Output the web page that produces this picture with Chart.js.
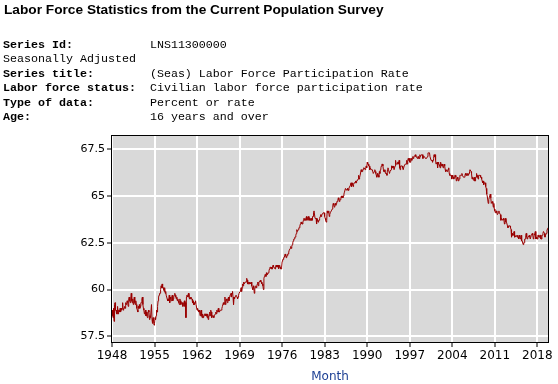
<!DOCTYPE html>
<html>
<head>
<meta charset="utf-8">
<script src="https://cdn.jsdelivr.net/npm/chart.js@4.4.0/dist/chart.umd.min.js"></script>
<style>
  html, body { margin: 0; padding: 0; background: #fff; }
  body { width: 558px; height: 384px; position: relative; overflow: hidden; }
  #title { position: absolute; left: 4px; top: 2px; font: bold 13.7px/16px "Liberation Sans", Arial, sans-serif; color: #000; white-space: nowrap; }
  #meta { position: absolute; left: 3px; top: 37.5px; margin: 0; font: 11.67px/14.6px "Liberation Mono", "Courier New", monospace; color: #000; }
  #wrap { position: absolute; left: 0; top: 0; width: 558px; height: 384px; }
</style>
</head>
<body>
<div id="wrap"><canvas id="lfprChart"></canvas></div>
<div id="title">Labor Force Statistics from the Current Population Survey</div>
<pre id="meta"><b>Series Id:</b>           LNS11300000
Seasonally Adjusted
<b>Series title:</b>        (Seas) Labor Force Participation Rate
<b>Labor force status:</b>  Civilian labor force participation rate
<b>Type of data:</b>        Percent or rate
<b>Age:</b>                 16 years and over</pre>
<script>
// monthly values, Jan 1948 .. Oct 2019
const firstYear = 1948;
const xTickYears = [1948, 1955, 1962, 1969, 1976, 1983, 1990, 1997, 2004, 2011, 2018];
const yTickValues = [57.5, 60, 62.5, 65, 67.5];

const rate1940s = [
  58.6, 58.9, 58.5, 59.0, 58.3, 59.2, 59.3, 58.9, 58.9, 58.7, 58.7, 59.1,
  58.7, 58.9, 58.9, 58.8, 59.0, 58.8, 59.0, 58.9, 59.0, 59.3, 58.9, 59.0
];
const rate1950s = [
  59.0, 59.1, 59.0, 59.3, 59.2, 59.3, 59.4, 59.3, 59.1, 59.5, 59.6, 59.4,
  59.3, 59.5, 59.8, 59.4, 59.3, 59.5, 59.2, 59.4, 59.6, 59.3, 59.2, 59.4,
  59.2, 59.0, 58.9, 58.8, 59.1, 59.0, 59.2, 59.0, 59.1, 59.3, 59.3, 59.5,
  59.6, 59.2, 59.0, 58.9, 58.7, 58.8, 58.9, 58.6, 58.8, 58.6, 58.5, 58.7,
  58.9, 58.8, 58.4, 58.6, 58.5, 58.5, 59.2, 58.4, 58.2, 58.5, 58.3, 58.1,
  58.2, 58.5, 58.4, 58.6, 58.9, 58.8, 59.1, 59.4, 59.6, 59.7, 59.8, 59.8,
  60.0, 60.2, 60.1, 60.3, 60.1, 60.1, 60.0, 59.9, 60.1, 59.8, 59.9, 59.7,
  59.7, 59.5, 59.4, 59.5, 59.4, 59.7, 59.3, 59.6, 59.5, 59.4, 59.6, 59.7,
  59.4, 59.5, 59.6, 59.7, 59.8, 59.7, 59.6, 59.5, 59.6, 59.4, 59.5, 59.4,
  59.3, 59.2, 59.5, 59.4, 59.2, 59.3, 59.3, 59.3, 59.1, 59.2, 59.2, 59.4
];
const rate1960s = [
  59.1, 59.3, 58.5, 59.6, 59.7, 59.6, 59.6, 59.8, 59.6, 59.5, 59.6, 59.5,
  59.6, 59.5, 59.5, 59.3, 59.4, 59.2, 59.3, 59.2, 59.3, 59.4, 59.2, 59.2,
  58.9, 59.0, 58.9, 58.8, 58.9, 58.8, 58.6, 58.8, 58.9, 58.6, 58.5, 58.7,
  58.5, 58.6, 58.6, 58.7, 58.7, 58.6, 58.7, 58.6, 58.5, 58.7, 58.4, 58.6,
  58.6, 58.8, 58.6, 58.9, 58.8, 58.5, 58.6, 58.6, 58.6, 58.5, 58.6, 58.6,
  58.7, 58.8, 58.7, 58.9, 58.8, 58.9, 59.0, 58.8, 58.8, 58.8, 58.9, 58.9,
  58.9, 59.0, 59.1, 59.1, 59.3, 59.2, 59.3, 59.6, 59.2, 59.4, 59.5, 59.4,
  59.3, 59.5, 59.6, 59.4, 59.6, 59.7, 59.7, 59.8, 59.6, 59.8, 59.9, 59.6,
  59.2, 59.6, 59.5, 59.6, 59.6, 59.7, 59.7, 59.6, 59.5, 59.6, 59.7, 59.8,
  59.8, 59.9, 60.0, 60.1, 59.9, 60.1, 60.3, 60.2, 60.4, 60.3, 60.3, 60.4
];
const rate1970s = [
  60.4, 60.4, 60.6, 60.5, 60.3, 60.3, 60.4, 60.3, 60.4, 60.3, 60.3, 60.4,
  60.2, 60.1, 60.0, 60.2, 60.1, 59.8, 60.1, 60.1, 60.2, 60.1, 60.2, 60.3,
  60.4, 60.2, 60.4, 60.4, 60.4, 60.5, 60.4, 60.4, 60.3, 60.3, 60.2, 60.0,
  60.6, 60.7, 60.8, 60.8, 60.7, 60.9, 60.8, 60.8, 60.8, 60.9, 61.0, 61.1,
  61.2, 61.2, 61.1, 61.2, 61.1, 61.2, 61.3, 61.2, 61.2, 61.2, 61.1, 61.2,
  61.3, 61.2, 61.3, 61.2, 61.3, 61.1, 61.2, 61.3, 61.2, 61.1, 61.1, 61.2,
  61.5, 61.6, 61.6, 61.7, 61.7, 61.7, 61.9, 61.8, 61.7, 61.8, 61.8, 61.9,
  61.9, 62.0, 62.1, 62.1, 62.2, 62.3, 62.2, 62.3, 62.4, 62.5, 62.6, 62.7,
  62.7, 62.8, 62.8, 62.9, 63.0, 63.2, 63.1, 63.1, 63.2, 63.3, 63.3, 63.4,
  63.5, 63.6, 63.6, 63.5, 63.5, 63.6, 63.7, 63.8, 63.7, 63.8, 63.7, 63.8
];
const rate1980s = [
  63.9, 63.7, 63.8, 63.8, 63.9, 63.7, 63.8, 63.7, 63.7, 63.8, 63.7, 63.7,
  63.9, 63.9, 64.1, 64.2, 64.2, 63.8, 63.8, 63.8, 63.5, 63.8, 63.8, 63.6,
  63.7, 63.7, 63.8, 63.9, 64.0, 63.9, 64.0, 64.0, 64.0, 64.1, 64.1, 64.1,
  63.9, 63.8, 63.7, 63.6, 63.7, 64.2, 64.1, 64.1, 64.2, 63.9, 64.0, 64.1,
  64.1, 64.2, 64.2, 64.3, 64.5, 64.6, 64.5, 64.4, 64.5, 64.6, 64.5, 64.6,
  64.7, 64.7, 64.8, 64.9, 64.8, 64.7, 64.8, 64.8, 64.9, 65.0, 64.9, 65.0,
  64.9, 65.0, 65.1, 65.2, 65.2, 65.4, 65.4, 65.3, 65.3, 65.4, 65.3, 65.3,
  65.4, 65.5, 65.5, 65.5, 65.7, 65.5, 65.6, 65.7, 65.5, 65.6, 65.7, 65.7,
  65.7, 65.8, 65.7, 65.8, 65.8, 65.8, 65.9, 66.1, 65.9, 66.0, 66.1, 66.1,
  66.4, 66.3, 66.3, 66.4, 66.4, 66.5, 66.5, 66.5, 66.4, 66.5, 66.6, 66.5
];
const rate1990s = [
  66.8, 66.7, 66.7, 66.6, 66.6, 66.4, 66.5, 66.5, 66.4, 66.4, 66.4, 66.4,
  66.2, 66.2, 66.3, 66.4, 66.3, 66.2, 66.1, 66.0, 66.2, 66.1, 66.1, 66.0,
  66.3, 66.2, 66.4, 66.5, 66.6, 66.7, 66.7, 66.6, 66.4, 66.3, 66.3, 66.4,
  66.2, 66.2, 66.2, 66.1, 66.4, 66.5, 66.4, 66.4, 66.2, 66.3, 66.3, 66.4,
  66.6, 66.6, 66.5, 66.5, 66.6, 66.4, 66.4, 66.6, 66.9, 66.7, 66.7, 66.7,
  66.8, 66.8, 66.7, 66.9, 66.5, 66.4, 66.6, 66.6, 66.6, 66.6, 66.5, 66.4,
  66.4, 66.6, 66.6, 66.7, 66.7, 66.7, 66.9, 66.7, 66.9, 67.0, 66.9, 67.0,
  66.8, 66.8, 67.0, 67.0, 66.9, 67.0, 67.1, 67.0, 67.1, 67.1, 67.1, 67.2,
  67.1, 67.1, 67.1, 67.0, 67.1, 67.1, 67.0, 67.0, 67.2, 67.1, 67.1, 67.2,
  67.2, 67.2, 67.0, 67.1, 67.1, 67.1, 67.1, 67.0, 67.0, 67.0, 67.0, 67.1
];
const rate2000s = [
  67.3, 67.3, 67.3, 67.3, 67.1, 67.1, 66.9, 66.9, 66.9, 66.8, 66.9, 67.0,
  67.2, 67.1, 67.2, 66.9, 66.7, 66.7, 66.8, 66.5, 66.8, 66.7, 66.7, 66.7,
  66.5, 66.8, 66.6, 66.7, 66.7, 66.6, 66.5, 66.6, 66.7, 66.6, 66.4, 66.3,
  66.4, 66.4, 66.3, 66.4, 66.4, 66.5, 66.2, 66.1, 66.1, 66.1, 66.1, 65.9,
  66.1, 66.0, 66.0, 65.9, 66.0, 66.1, 66.1, 66.0, 65.8, 65.9, 66.0, 65.9,
  65.8, 65.9, 65.9, 66.1, 66.1, 66.1, 66.1, 66.2, 66.1, 66.1, 66.0, 66.0,
  66.0, 66.1, 66.2, 66.1, 66.1, 66.2, 66.1, 66.2, 66.1, 66.2, 66.3, 66.4,
  66.4, 66.3, 66.2, 65.9, 66.0, 66.0, 66.0, 65.8, 66.0, 65.8, 66.0, 66.0,
  66.2, 66.0, 66.1, 65.9, 66.1, 66.1, 66.1, 66.1, 66.0, 66.0, 65.9, 65.8,
  65.7, 65.8, 65.6, 65.7, 65.7, 65.7, 65.5, 65.4, 65.1, 65.0, 65.0, 64.6
];
const rate2010s = [
  64.8, 64.9, 64.9, 65.1, 64.9, 64.6, 64.6, 64.7, 64.6, 64.4, 64.6, 64.3,
  64.2, 64.1, 64.2, 64.2, 64.1, 64.0, 64.0, 64.1, 64.2, 64.1, 64.1, 64.0,
  63.7, 63.8, 63.8, 63.7, 63.7, 63.8, 63.7, 63.5, 63.6, 63.8, 63.6, 63.6,
  63.6, 63.4, 63.3, 63.4, 63.4, 63.4, 63.4, 63.3, 63.2, 62.8, 63.0, 62.9,
  62.9, 63.0, 63.1, 62.8, 62.8, 62.8, 62.9, 62.9, 62.8, 62.9, 62.8, 62.7,
  62.9, 62.8, 62.7, 62.8, 62.9, 62.6, 62.6, 62.6, 62.4, 62.5, 62.5, 62.7,
  62.7, 62.9, 63.0, 62.8, 62.7, 62.8, 62.8, 62.8, 62.9, 62.8, 62.7, 62.7,
  62.9, 62.9, 63.0, 62.9, 62.7, 62.8, 62.9, 62.9, 63.1, 62.7, 62.8, 62.7,
  62.7, 62.9, 62.9, 62.8, 62.8, 62.9, 62.9, 62.7, 62.7, 62.9, 62.9, 63.0,
  63.1, 63.1, 63.0, 62.8, 62.9, 62.9, 63.0, 63.2, 63.2, 63.3
];

const rates = [].concat(rate1940s, rate1950s, rate1960s, rate1970s, rate1980s, rate1990s, rate2000s, rate2010s);
const points = rates.map((v, i) => ({ x: firstYear + i / 12, y: v }));

const plotFrame = {
  id: "plotFrame",
  beforeDraw(chart) {
    const a = chart.chartArea, ctx = chart.ctx;
    ctx.save();
    ctx.fillStyle = "#d9d9d9";
    ctx.fillRect(a.left, a.top, a.right - a.left, a.bottom - a.top);
    ctx.restore();
  },
  afterDraw(chart) {
    const a = chart.chartArea, ctx = chart.ctx;
    ctx.save();
    ctx.strokeStyle = "#000";
    ctx.lineWidth = 1;
    ctx.strokeRect(a.left - 0.5, a.top - 0.5, a.right - a.left + 1, a.bottom - a.top + 1);
    ctx.restore();
  }
};

new Chart(document.getElementById("lfprChart"), {
  type: "line",
  data: {
    datasets: [{
      data: points,
      borderColor: "#990000",
      borderWidth: 1,
      pointRadius: 0,
      tension: 0,
      fill: false
    }]
  },
  options: {
    responsive: true,
    maintainAspectRatio: false,
    animation: false,
    devicePixelRatio: 1,
    layout: { padding: { top: 136, right: 10, left: 0, bottom: 0 } },
    plugins: { legend: { display: false }, tooltip: { enabled: false } },
    scales: {
      x: {
        type: "linear",
        min: 1948,
        max: 2019.75,
        afterBuildTicks: s => { s.ticks = xTickYears.map(v => ({ value: v })); },
        afterFit: s => { s.height = 42; },
        grid: { color: "#fff", lineWidth: 2, tickColor: "#000", tickWidth: 1, tickLength: 5 },
        border: { display: false },
        ticks: {
          autoSkip: false, maxRotation: 0, padding: 2, color: "#000",
          font: { family: "DejaVu Sans", size: 12 },
          callback: v => String(v)
        },
        title: {
          display: true, text: "Month", color: "#1c3f94",
          font: { family: "DejaVu Sans", size: 12 },
          padding: { top: 2, bottom: 0 }
        }
      },
      y: {
        min: 57.2,
        max: 68.2,
        afterBuildTicks: s => { s.ticks = yTickValues.map(v => ({ value: v })); },
        afterFit: s => { s.width = 112; },
        grid: { color: "#fff", lineWidth: 2, tickColor: "#000", tickWidth: 1, tickLength: 5 },
        border: { display: false },
        ticks: {
          padding: 2, color: "#000",
          font: { family: "DejaVu Sans", size: 11 },
          callback: v => String(v)
        }
      }
    }
  },
  plugins: [plotFrame]
});
</script>
</body>
</html>
